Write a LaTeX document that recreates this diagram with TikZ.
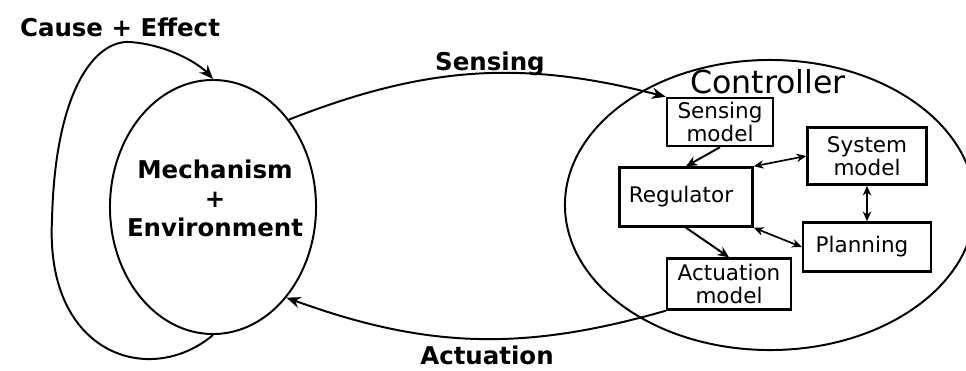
\documentclass[tikz,border=0pt]{standalone}
\usepackage{fontspec}
\setmainfont{DejaVu Sans}
\usetikzlibrary{arrows.meta, shapes.geometric}

\begin{document}
\begin{tikzpicture}[x=0.025cm, y=-0.025cm,
    block/.style={draw, line width=1.7pt, inner sep=0pt, align=center,
      font=\fontsize{15.3}{16.5}\selectfont},
    blob/.style={draw, ellipse, line width=1.4pt, inner sep=0pt},
    lbl/.style={font=\fontsize{17.4}{20.6}\selectfont\bfseries, align=center},
    link/.style={line width=1.4pt, -{Stealth[length=10pt, width=8pt]}},
    shortlink/.style={line width=1.4pt, -{Stealth[length=8pt, width=7pt]}},
    twoway/.style={line width=1.2pt, {Stealth[length=7pt, width=6pt]}-{Stealth[length=7pt, width=6pt]}}]

  \useasboundingbox (0,0) rectangle (966,370);

  % Draw the two ellipses
  \node[blob, minimum width=5.15cm, minimum height=6.35cm] (mech) at (213,207) {};
  \node[blob, minimum width=10.25cm, minimum height=7.25cm] (ctrl) at (770,205) {};

  % Labels outside the boxes
  \node[lbl] (mechtext) at (215,198) {Mechanism\\+\\Environment};
  \node[lbl] (cause) at (120,27) {Cause + Effect};
  \node[lbl] (senslbl) at (490,64) {Sensing};
  \node[lbl] (actlbl) at (487,355) {Actuation};
  \node[font=\fontsize{22.5}{24}\selectfont] (ctrltext) at (768,82) {Controller};

  % Boxes of the controller
  \node[block, minimum width=2.65cm, minimum height=1.2cm] (sens) at (720,122) {Sensing\\model};
  \node[block, minimum width=2.975cm, minimum height=1.425cm] (sys) at (867,156) {System\\model};
  \node[block, minimum width=3.325cm, minimum height=1.475cm] (reg) at (686,197) {Regulator\hspace{0.25cm}};
  \node[block, minimum width=3.2cm, minimum height=1.225cm] (plan) at (867,247) {Planning\hspace{0.25cm}};
  \node[block, minimum width=3.1cm, minimum height=1.275cm] (act) at (729,284) {Actuation\\model};

  % Outer loops
  \draw[link] (mech.49) to[bend left=18] (sens.north west);
  \draw[link] (act.south west) to[bend left=18] (mech.-51);
  \draw[link] (mech.south) .. controls (150,388) and (45,355) .. (52,220)
    .. controls (55,90) and (95,40) .. (130,42)
    .. controls (170,45) and (200,65) .. (mech.north);

  % Arrows inside the controller
  \draw[shortlink] (sens.south) -- (reg.north);
  \draw[shortlink] (reg.south) -- (act.north);
  \draw[twoway] (reg.north east) -- (sys.west);
  \draw[twoway, line width=1.6pt] (sys.south) -- (plan.north);
  \draw[twoway] (reg.south east) -- (plan.west);

\end{tikzpicture}
\end{document}
